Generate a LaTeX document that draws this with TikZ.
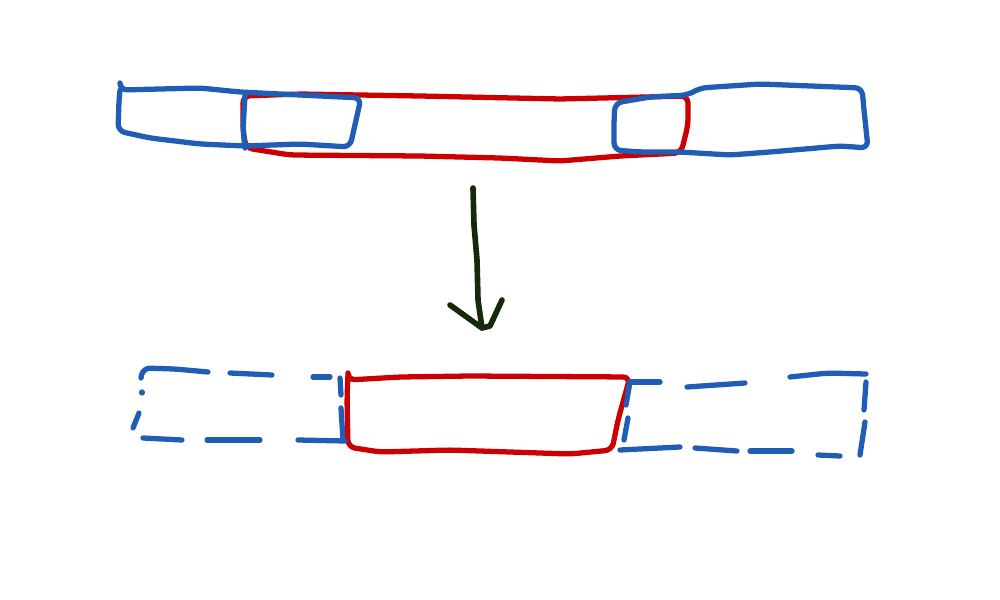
\documentclass[tikz,border=0pt]{standalone}
\definecolor{skblue}{RGB}{31,94,180}
\definecolor{skred}{RGB}{204,0,0}
\definecolor{skdark}{RGB}{20,42,10}
\tikzset{
  bl/.style={draw=skblue,line width=1.5pt,line cap=round,line join=round,rounded corners=2pt},
  rd/.style={draw=skred,line width=1.5pt,line cap=round,line join=round,rounded corners=2pt},
  ar/.style={draw=skdark,line width=1.6pt,line cap=round,line join=round}
}
\begin{document}
\begin{tikzpicture}[x=0.01cm,y=-0.01cm]
\useasboundingbox[fill=white] (0,0) rectangle (1000,600);
% ---- top row ----
% red long box
\draw[rd] (243,96) -- (300,94) -- (420,96) -- (560,99) -- (688,96) -- (688,125) -- (681,153) -- (620,156) -- (560,161) -- (500,158) -- (420,156) -- (290,155) -- (246,148) -- (243,130) -- cycle;
% blue left box
\draw[bl] (120,84) -- (120,90) -- (200,88) -- (240,92) -- (300,95) -- (361,98) -- (350,147) -- (300,144) -- (245,146) -- (200,144) -- (150,138) -- (118,131) -- (119,100) -- (120,90);
\draw[bl] (245,95) -- (243,130) -- (245,148);
% blue right box
\draw[bl] (615,103) -- (650,97) -- (688,95) -- (700,88) -- (760,84) -- (862,88) -- (864,110) -- (868,148) -- (840,146) -- (770,152) -- (730,155) -- (680,152) -- (640,152) -- (614,150) -- (614,120) -- cycle;
% ---- arrow ----
\coordinate (a1) at (473,188);
\coordinate (a2) at (482,328);
\draw[ar] (a1) -- (474,225) -- (477,260) -- (478,300) -- (a2);
\draw[ar] (450,305) -- (a2) -- (490,326) -- (502,300);
% ---- bottom row ----
% red box
\draw[rd] (348,372) -- (348,380) -- (400,377) -- (470,376) -- (630,377) -- (618,420) -- (612,450) -- (570,454) -- (450,450) -- (380,452) -- (348,447) -- (347,400) -- cycle;
% blue dashed left
\draw[bl] (141,378) -- (143,368) -- (175,369) -- (208,372);
\draw[bl] (230,373) -- (272,375);
\draw[bl] (313,377) -- (330,377);
\draw[bl] (142,392) -- (142,393);
\draw[bl] (139,413) -- (133,428);
\draw[bl] (143,438) -- (182,440);
\draw[bl] (207,440) -- (260,440);
\draw[bl] (298,440) -- (345,441);
\draw[bl] (340,378) -- (341,395);
\draw[bl] (341,408) -- (343,440);
% blue dashed right
\draw[bl] (630,382) -- (660,382);
\draw[bl] (687,387) -- (745,383);
\draw[bl] (790,377) -- (828,373) -- (866,374);
\draw[bl] (866,382) -- (864,410);
\draw[bl] (865,422) -- (860,455);
\draw[bl] (620,450) -- (680,447);
\draw[bl] (695,448) -- (737,451);
\draw[bl] (750,451) -- (792,451);
\draw[bl] (818,455) -- (840,456);
\draw[bl] (630,382) -- (626,405);
\draw[bl] (628,418) -- (624,440);
\end{tikzpicture}
\end{document}
